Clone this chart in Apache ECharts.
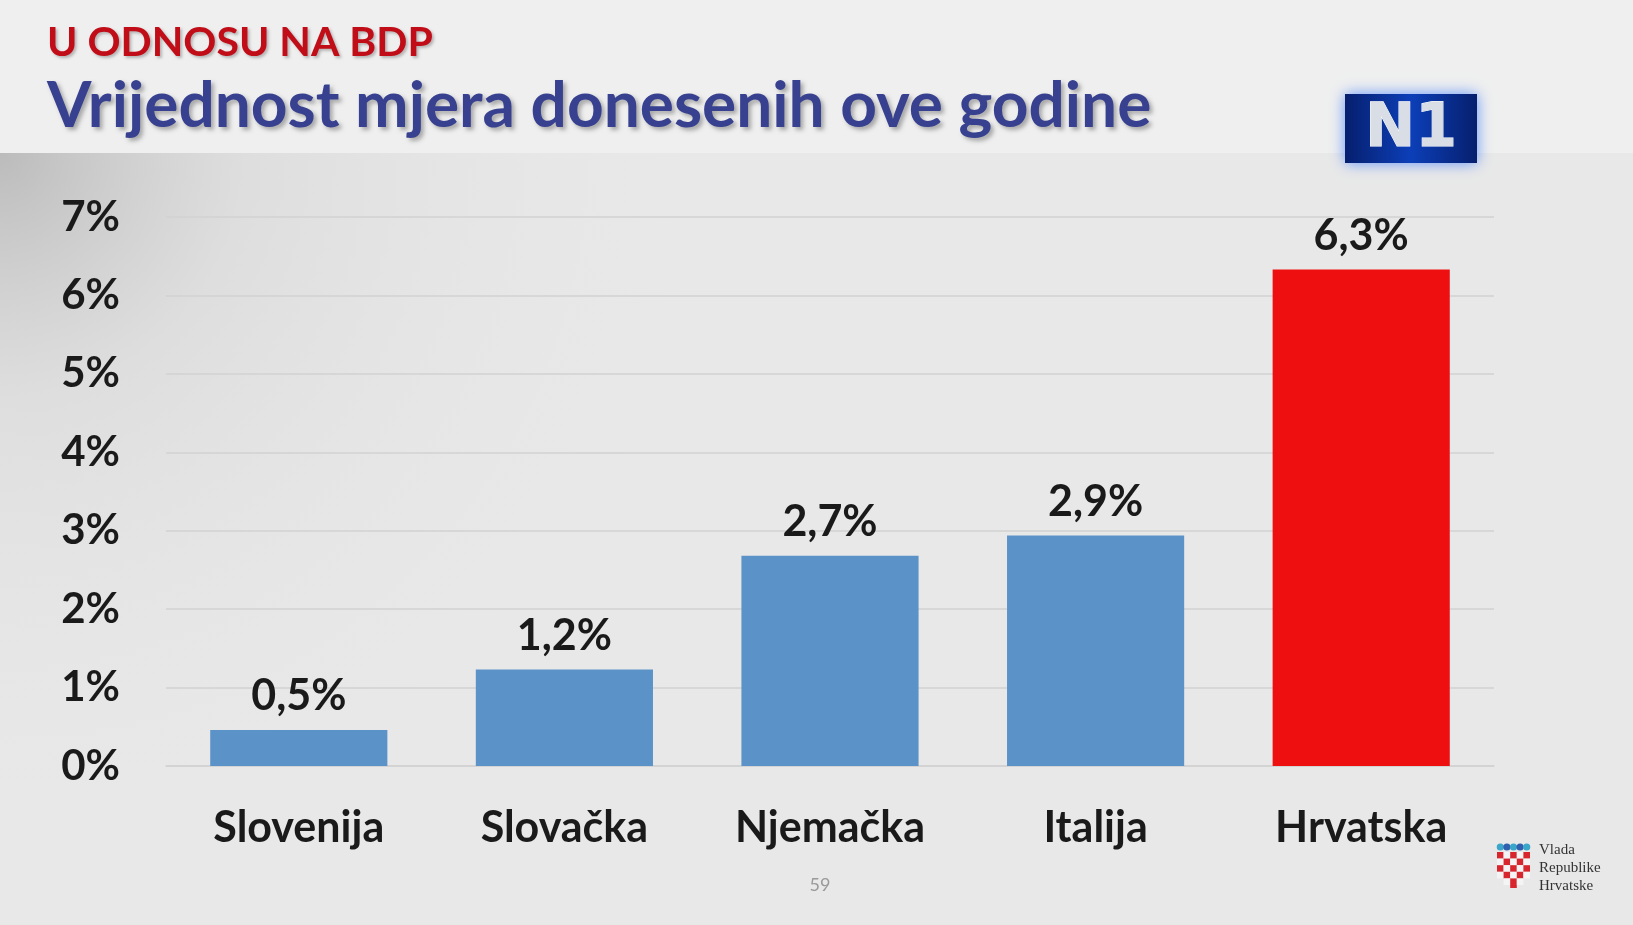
<!DOCTYPE html>
<html>
<head>
<meta charset="utf-8">
<script src="https://cdn.jsdelivr.net/npm/echarts@6/dist/echarts.min.js"></script>
<style>
html,body{margin:0;padding:0;background:#e8e8e8;}
#chart{width:1633px;height:925px;}
</style>
</head>
<body>
<div id="chart"></div>
<script>
const categories = ['Slovenija', 'Slovačka', 'Njemačka', 'Italija', 'Hrvatska'];
const values = [0.46, 1.23, 2.68, 2.94, 6.33];
const yTicks = [0, 1, 2, 3, 4, 5, 6, 7];
const highlightCategory = 'Hrvatska';

const FONT = 'Lato';
const chart = echarts.init(document.getElementById('chart'));

function checker() {
  const els = [];
  const x0 = 1497, y0 = 852, cs = 6.6;
  for (let r = 0; r < 5; r++) {
    for (let c = 0; c < 5; c++) {
      if (r === 4 && (c === 0 || c === 4)) continue;
      els.push({
        type: 'rect',
        shape: { x: x0 + c * cs, y: y0 + r * cs, width: cs, height: cs },
        style: { fill: ((r + c) % 2 === 0) ? '#d8262e' : '#f4f4f4' },
        silent: true
      });
    }
  }
  els.push({ type: 'rect', shape: { x: x0 + 2 * cs, y: y0 + 5 * cs, width: cs, height: 3 }, style: { fill: '#d8262e' }, silent: true });
  const crownColors = ['#3aa6c9', '#2f5fae', '#3aa6c9', '#2f5fae', '#3aa6c9'];
  for (let c = 0; c < 5; c++) {
    els.push({
      type: 'circle',
      shape: { cx: x0 + c * cs + cs / 2, cy: 847, r: 3.6 },
      style: { fill: crownColors[c] },
      silent: true
    });
  }
  return els;
}

const option = {
  backgroundColor: '#e8e8e8',
  animation: false,
  graphic: [
    { type: 'rect', z: -10, shape: { x: 0, y: 0, width: 1633, height: 153 }, style: { fill: '#efefef' }, silent: true },
    { type: 'rect', z: -10, shape: { x: 0, y: 153, width: 700, height: 772 },
      style: { fill: { type: 'radial', x: 0, y: 0, r: 1, global: false,
        colorStops: [{ offset: 0, color: 'rgba(185,185,185,0.95)' }, { offset: 0.35, color: 'rgba(215,215,215,0.6)' }, { offset: 1, color: 'rgba(232,232,232,0)' }] } },
      silent: true },
    { type: 'rect', z: 5, shape: { x: 1345, y: 94, width: 132, height: 69 },
      style: { fill: { type: 'linear', x: 0, y: 0, x2: 1, y2: 0,
        colorStops: [{ offset: 0, color: '#061f6e' }, { offset: 0.5, color: '#0c3fb8' }, { offset: 1, color: '#061f6e' }] },
        shadowBlur: 14, shadowColor: 'rgba(40,110,255,0.7)' }, silent: true },
    { type: 'text', z: 6, x: 1411, y: 130,
      style: { text: 'N1', fontFamily: 'DejaVu Sans', fontWeight: 'bold', fontSize: 60, align: 'center', verticalAlign: 'middle',
        fill: '#d9dde5', stroke: '#ffffff', lineWidth: 1,
        shadowBlur: 10, shadowColor: 'rgba(120,180,255,0.95)' }, silent: true },
    { type: 'text', x: 820, y: 885, style: { text: '59', fontFamily: FONT, fontSize: 18, fill: '#9a9a9a', align: 'center', verticalAlign: 'middle' }, silent: true },
    { type: 'text', x: 1539, y: 850, style: { text: 'Vlada', fontFamily: 'Liberation Serif', fontSize: 15, fill: '#333333', verticalAlign: 'middle' }, silent: true },
    { type: 'text', x: 1539, y: 868, style: { text: 'Republike', fontFamily: 'Liberation Serif', fontSize: 15, fill: '#333333', verticalAlign: 'middle' }, silent: true },
    { type: 'text', x: 1539, y: 886, style: { text: 'Hrvatske', fontFamily: 'Liberation Serif', fontSize: 15, fill: '#333333', verticalAlign: 'middle' }, silent: true }
  ].concat(checker()),
  title: [
    { text: 'U ODNOSU NA BDP', left: 42, top: 17,
      textStyle: { fontFamily: FONT, fontWeight: 'bold', fontSize: 41, color: '#c00d17',
        textShadowColor: 'rgba(0,0,0,0.25)', textShadowBlur: 3, textShadowOffsetX: 2, textShadowOffsetY: 2 } },
    { text: 'Vrijednost mjera donesenih ove godine', left: 42, top: 69,
      textStyle: { fontFamily: FONT, fontWeight: 'bold', fontSize: 64, color: '#37418f',
        textShadowColor: 'rgba(0,0,0,0.3)', textShadowBlur: 4, textShadowOffsetX: 3, textShadowOffsetY: 3 } }
  ],
  grid: { left: 166, right: 139, top: 217, bottom: 159, containLabel: false },
  xAxis: {
    type: 'category',
    data: categories,
    axisTick: { show: false },
    axisLine: { show: true, lineStyle: { color: '#d2d2d2', width: 1.5 } },
    axisLabel: { fontFamily: FONT, fontWeight: 'bold', fontSize: 43, color: '#1a1a1a', margin: 41 }
  },
  yAxis: {
    type: 'value',
    min: yTicks[0],
    max: yTicks[yTicks.length - 1],
    interval: 1,
    axisLine: { show: false },
    axisTick: { show: false },
    splitLine: { lineStyle: { color: '#d2d2d2', width: 1.5 } },
    axisLabel: { fontFamily: FONT, fontWeight: 'bold', fontSize: 42, color: '#1a1a1a', margin: 46,
      formatter: v => v + '%' }
  },
  series: [{
    type: 'bar',
    barWidth: '66.7%',
    data: values.map((v, i) => ({
      value: v,
      itemStyle: { color: categories[i] === highlightCategory ? '#ee1010' : '#5b93c8' }
    })),
    label: {
      show: true, position: 'top', distance: 12,
      fontFamily: FONT, fontWeight: 'bold', fontSize: 43, color: '#1a1a1a',
      formatter: p => p.value.toFixed(1).replace('.', ',') + '%'
    }
  }]
};
chart.setOption(option);
</script>
</body>
</html>
